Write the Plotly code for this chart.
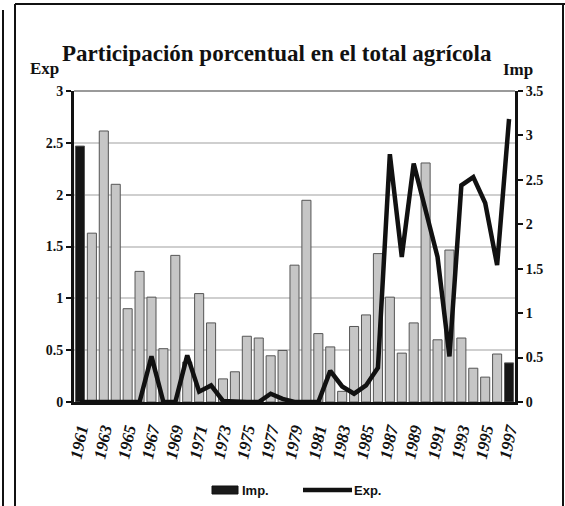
import plotly.graph_objects as go

years = [str(y) for y in range(1961, 1998)]
imp = [2.88, 1.90, 3.05, 2.45, 1.05, 1.47, 1.18, 0.60, 1.65, 0.45,
       1.22, 0.89, 0.26, 0.34, 0.74, 0.72, 0.52, 0.58, 1.54, 2.27,
       0.77, 0.62, 0.12, 0.85, 0.98, 1.67, 1.18, 0.55, 0.89, 2.69,
       0.70, 1.71, 0.72, 0.38, 0.28, 0.54, 0.44]
exp = [0, 0, 0, 0, 0, 0, 0.44, 0, 0, 0.45,
       0.10, 0.16, 0.01, 0, 0, 0, 0.08, 0.03, 0, 0,
       0, 0.30, 0.15, 0.08, 0.16, 0.33, 2.39, 1.40, 2.30, 1.85,
       1.40, 0.44, 2.09, 2.17, 1.92, 1.32, 2.73]
tick_years = [str(y) for y in range(1961, 1998, 2)]
left_ticks = [0, 0.5, 1, 1.5, 2, 2.5, 3]
right_ticks = [0, 0.5, 1, 1.5, 2, 2.5, 3, 3.5]
series_names = ["Imp.", "Exp."]

bar_colors = ["#c6c6c6"] * len(imp)
bar_colors[0] = "#151515"
bar_colors[-1] = "#151515"

SERIF = "Liberation Serif"
NARROW = "Liberation Sans Narrow, Liberation Sans, Arial"

fig = go.Figure()
fig.add_trace(go.Bar(
    x=years, y=imp, name=series_names[0], yaxis="y",
    marker=dict(color=bar_colors, line=dict(color="#555555", width=1)),
))
fig.add_trace(go.Scatter(
    x=years, y=exp, name=series_names[1], yaxis="y2", mode="lines",
    line=dict(color="#111111", width=4.5),
))

# plot area in px
L, R, T, B = 74, 515, 91, 402
W, H = R - L, B - T
def px(x):
    return (x - L) / W
def py(y):
    return (B - y) / H

fig.update_layout(
    width=565, height=506,
    margin=dict(l=L, r=565 - R, t=T, b=506 - B),
    paper_bgcolor="white", plot_bgcolor="white",
    bargap=0.24,
    showlegend=False,
    xaxis=dict(type="category", tickmode="array", tickvals=tick_years, ticktext=tick_years,
               tickangle=-78, ticklabelstandoff=8,
               tickfont=dict(family=SERIF, size=17, weight="bold", style="italic", color="#111"),
               showline=True, linecolor="#111", linewidth=3, ticks="", showgrid=False),
    yaxis=dict(side="right", range=[0, 3.5], tickmode="array", tickvals=right_ticks,
               ticktext=[f"{v:g}" for v in right_ticks],
               showline=True, linecolor="#111", linewidth=3, ticks="outside", ticklen=5,
               tickwidth=2, tickcolor="#111", showgrid=False, zeroline=False,
               tickfont=dict(family=SERIF, size=14, weight="bold", color="#111")),
    yaxis2=dict(side="left", overlaying="y", range=[0, 3], tickmode="array", tickvals=left_ticks,
                ticktext=[f"{v:g}" for v in left_ticks],
                showline=True, linecolor="#111", linewidth=3, ticks="outside", ticklen=5,
                tickwidth=2, tickcolor="#111", showgrid=True, gridcolor="#cfcfcf", gridwidth=1.5,
                zeroline=False,
                tickfont=dict(family=SERIF, size=14, weight="bold", color="#111")),
    annotations=[
        dict(text="Participación porcentual en el total agrícola", xref="paper", yref="paper",
             x=px(277), y=py(53), showarrow=False, xanchor="center", yanchor="middle",
             font=dict(family=SERIF, size=23, weight="bold", color="#111")),
        dict(text="Exp", xref="paper", yref="paper", x=px(44), y=py(68), showarrow=False,
             xanchor="center", yanchor="middle",
             font=dict(family=SERIF, size=17, weight="bold", color="#111")),
        dict(text="Imp", xref="paper", yref="paper", x=px(518), y=py(69), showarrow=False,
             xanchor="center", yanchor="middle",
             font=dict(family=SERIF, size=17, weight="bold", color="#111")),
        dict(text=series_names[0], xref="paper", yref="paper", x=px(240), y=py(490), showarrow=False,
             xanchor="left", yanchor="middle",
             font=dict(family=NARROW, size=13, weight="bold", color="#111")),
        dict(text=series_names[1], xref="paper", yref="paper", x=px(352), y=py(490), showarrow=False,
             xanchor="left", yanchor="middle",
             font=dict(family=NARROW, size=13, weight="bold", color="#111")),
    ],
    shapes=[
        dict(type="line", xref="paper", yref="paper", x0=0, x1=1, y0=1, y1=1,
             line=dict(color="#9a9a9a", width=2)),
        # legend swatches
        dict(type="rect", xref="paper", yref="paper", x0=px(212), x1=px(238), y0=py(494), y1=py(486),
             fillcolor="#1a1a1a", line=dict(color="#111", width=1)),
        dict(type="line", xref="paper", yref="paper", x0=px(303), x1=px(352), y0=py(490), y1=py(490),
             line=dict(color="#111", width=4.5)),
        # outer frame
        dict(type="line", xref="paper", yref="paper", x0=px(3), x1=px(3), y0=py(10), y1=py(506),
             line=dict(color="#111", width=2)),
        dict(type="line", xref="paper", yref="paper", x0=px(15), x1=px(15), y0=py(4), y1=py(506),
             line=dict(color="#111", width=2)),
        dict(type="line", xref="paper", yref="paper", x0=px(15), x1=px(565), y0=py(4), y1=py(4),
             line=dict(color="#111", width=2)),
        dict(type="line", xref="paper", yref="paper", x0=px(563), x1=px(563), y0=py(4), y1=py(506),
             line=dict(color="#111", width=2)),
    ],
)

fig.write_html("out.html", config={"displayModeBar": False},
               post_script="document.body.style.margin='0';")
